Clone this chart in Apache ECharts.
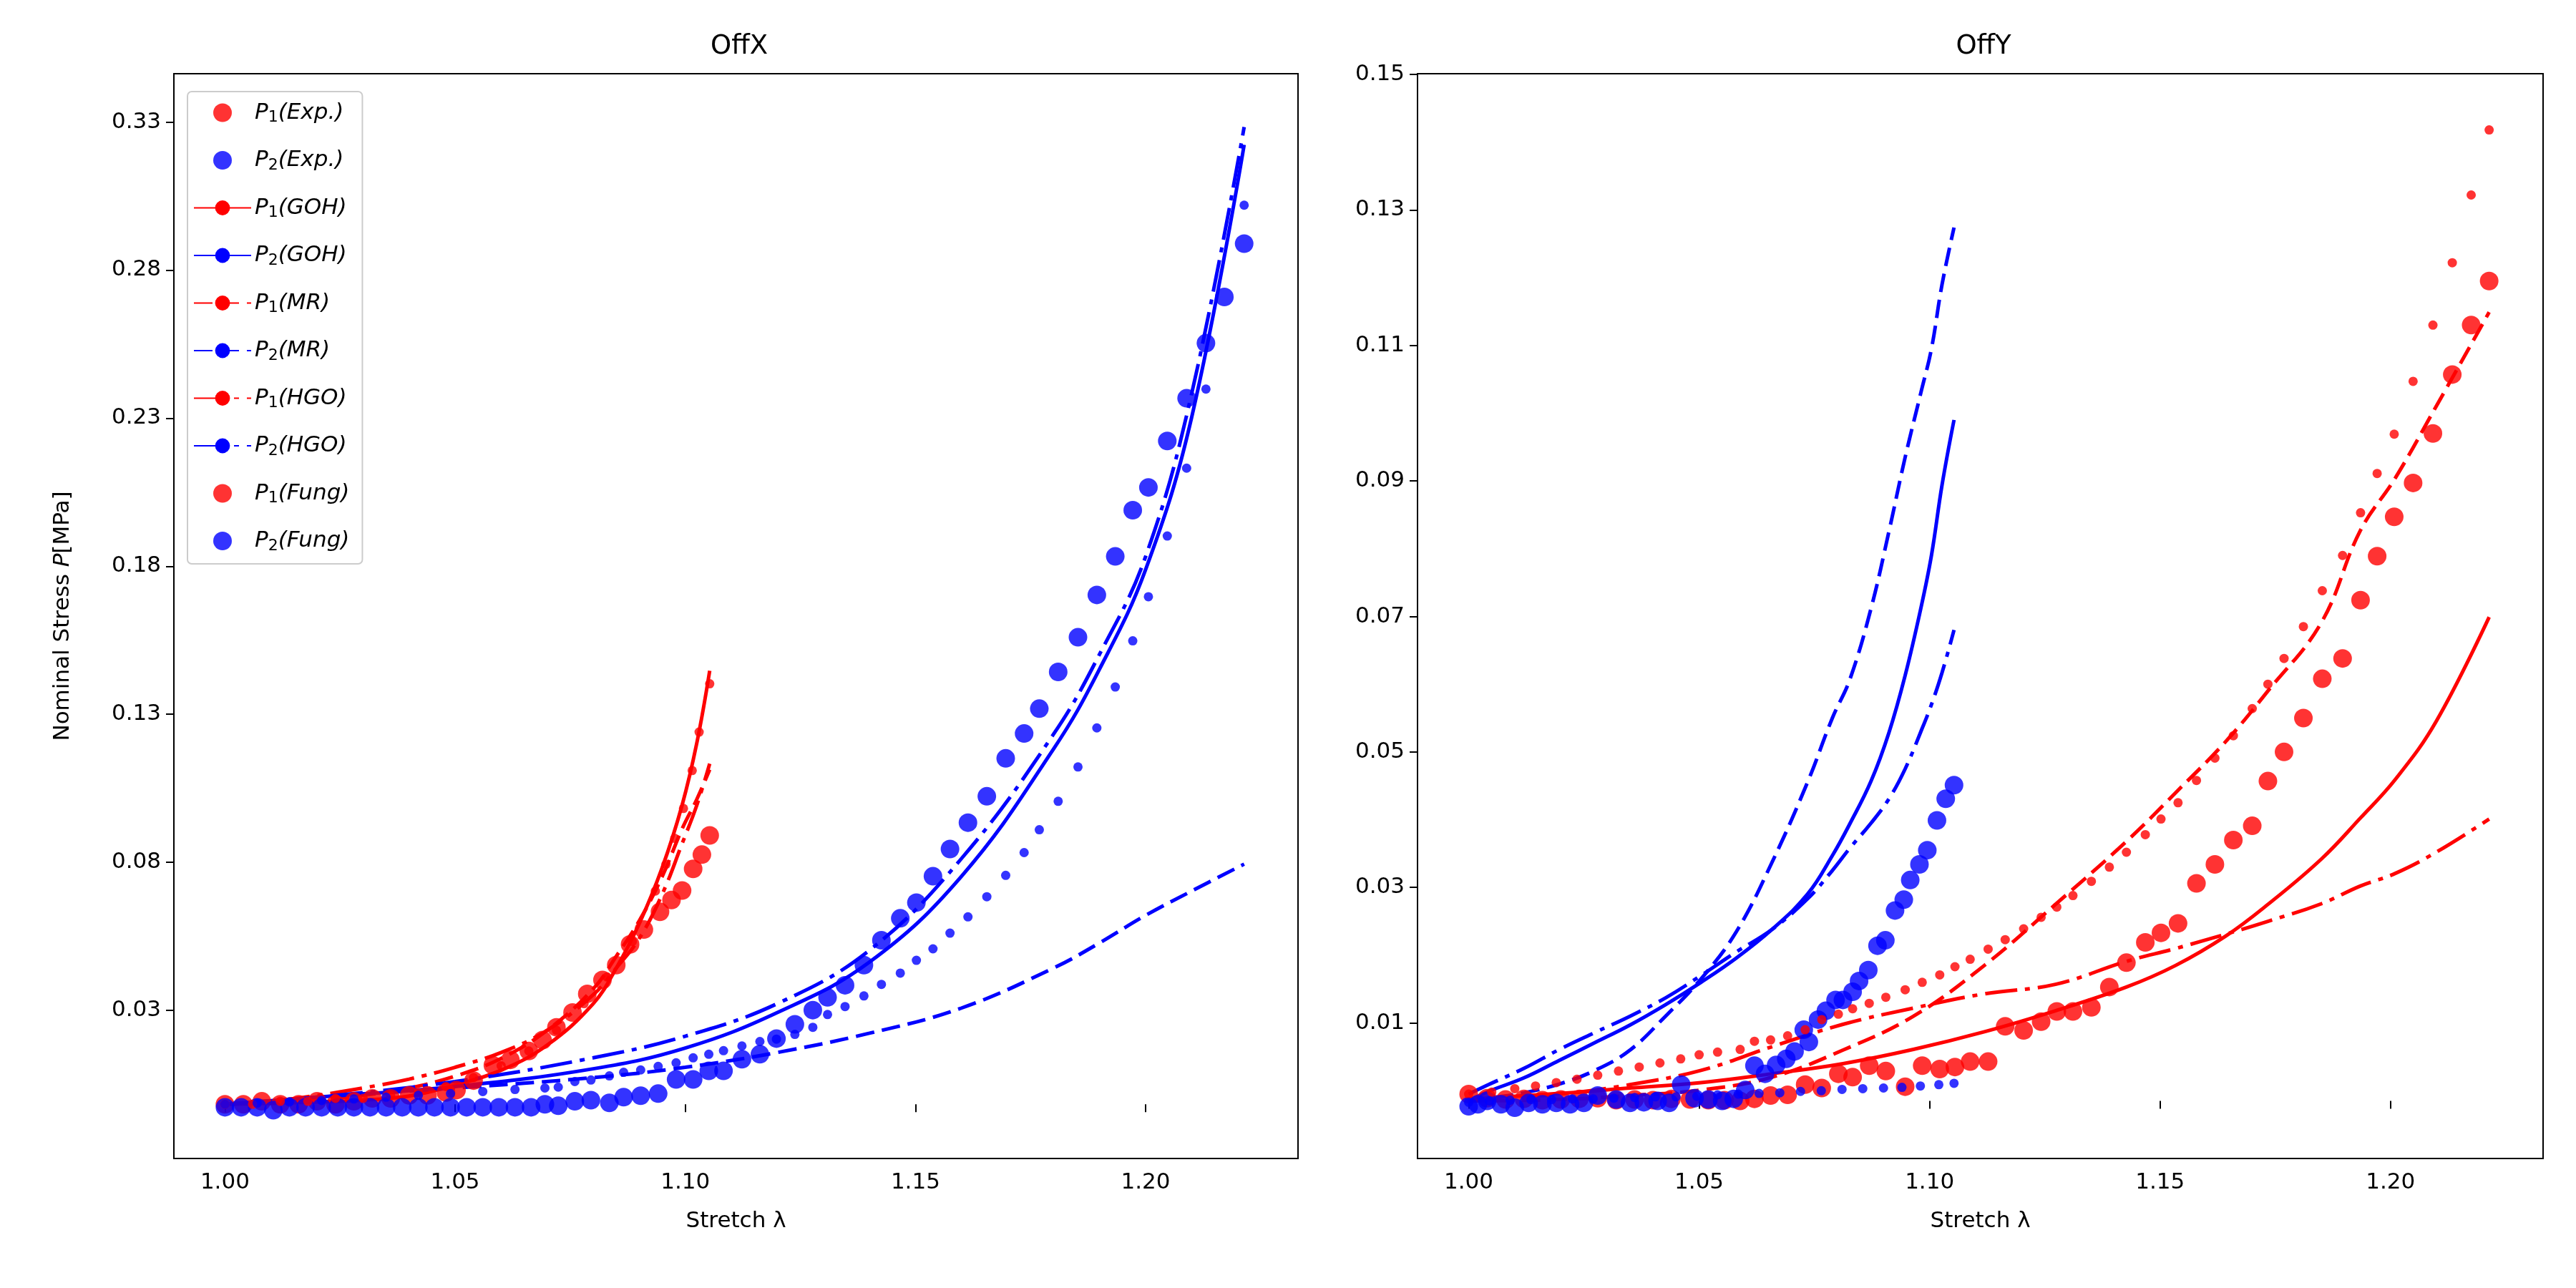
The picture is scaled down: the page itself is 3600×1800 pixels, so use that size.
<!DOCTYPE html>
<html>
<head>
<meta charset="utf-8">
<script src="https://cdn.jsdelivr.net/npm/echarts@6/dist/echarts.min.js"></script>
<style>html,body{margin:0;background:#fff}#c{width:3600px;height:1800px}</style>
</head>
<body>
<div id="c"></div>
<script>
// ---------- OffX (left) ----------
const xP1ExpL = [1.000,1.004,1.008,1.012,1.016,1.020,1.024,1.028,1.032,1.036,1.040,1.044,1.048,1.0503,1.054,1.0582,1.062,1.066,1.069,1.072,1.0755,1.0787,1.082,1.085,1.088,1.091,1.0945,1.097,1.0993,1.1017,1.1036,1.1053];
const yP1ExpL = [0.000,0.000,0.001,0.000,0.000,0.001,0.000,0.001,0.002,0.002,0.003,0.003,0.004,0.0048,0.008,0.0132,0.015,0.018,0.0217,0.026,0.031,0.0373,0.042,0.047,0.054,0.059,0.065,0.069,0.0722,0.0795,0.0843,0.0908];
const xP1FungL = [1.000,1.006,1.012,1.018,1.024,1.030,1.036,1.042,1.048,1.054,1.060,1.066,1.072,1.078,1.083,1.0885,1.0935,1.0958,1.0977,1.0996,1.1015,1.103,1.1053];
const yP1FungL = [0.000,0.000,0.001,0.001,0.002,0.002,0.003,0.004,0.006,0.009,0.013,0.018,0.025,0.034,0.043,0.055,0.072,0.081,0.0898,0.0999,0.1127,0.1257,0.142];
const xLineP1L = [1.000,1.010,1.020,1.030,1.040,1.050,1.060,1.070,1.080,1.085,1.090,1.095,1.0993,1.1025,1.1053];
const yP1GOHL = [0.000,0.0003,0.0008,0.0014,0.0028,0.0065,0.0115,0.020,0.034,0.046,0.061,0.080,0.101,0.122,0.1464];
const yP1MRL  = [0.000,0.0006,0.0015,0.0030,0.0055,0.0095,0.0155,0.025,0.039,0.050,0.062,0.077,0.093,0.103,0.113];
const yP1HGOL = [0.000,0.0010,0.0030,0.0055,0.0085,0.0125,0.0175,0.025,0.037,0.046,0.056,0.071,0.088,0.101,0.115];

const xP2ExpL = [1.000,1.0035,1.007,1.0105,1.014,1.0175,1.021,1.0245,1.028,1.0315,1.035,1.0385,1.042,1.0455,1.049,1.0525,1.056,1.0595,1.063,1.0665,1.0695,1.0724,1.076,1.0795,1.0835,1.0866,1.0903,1.0941,1.098,1.1017,1.1051,1.1083,1.1123,1.1162,1.1198,1.1238,1.1277,1.1309,1.1347,1.1388,1.1426,1.1467,1.1502,1.1538,1.1575,1.1614,1.1655,1.1696,1.1736,1.1769,1.181,1.1853,1.1894,1.1934,1.1972,1.2006,1.2047,1.2089,1.2131,1.2171,1.2214];
const yP2ExpL = [-0.001,-0.001,-0.001,-0.002,-0.001,-0.001,-0.001,-0.001,-0.001,-0.001,-0.001,-0.001,-0.001,-0.001,-0.001,-0.001,-0.001,-0.001,-0.001,-0.001,0.000,-0.0005,0.001,0.0014,0.0005,0.0024,0.0029,0.0036,0.0084,0.0084,0.0113,0.0113,0.0152,0.0169,0.0222,0.027,0.0318,0.0361,0.0402,0.047,0.0554,0.0628,0.0681,0.077,0.0862,0.0951,0.104,0.1168,0.1252,0.1336,0.146,0.1577,0.172,0.185,0.2006,0.2083,0.224,0.2384,0.257,0.2726,0.2906];
const xP2FungL = [1.000,1.007,1.014,1.021,1.028,1.035,1.042,1.049,1.056,1.063,1.0695,1.0724,1.076,1.0795,1.0835,1.0866,1.0903,1.0941,1.098,1.1017,1.1051,1.1083,1.1123,1.1162,1.1198,1.1238,1.1277,1.1309,1.1347,1.1388,1.1426,1.1467,1.1502,1.1538,1.1575,1.1614,1.1655,1.1696,1.1736,1.1769,1.181,1.1853,1.1894,1.1934,1.1972,1.2006,1.2047,1.2089,1.2131,1.2214];
const yP2FungL = [0.000,0.0004,0.0008,0.0013,0.0018,0.0024,0.003,0.0036,0.0043,0.005,0.0055,0.0058,0.0077,0.0082,0.0096,0.0108,0.0116,0.0128,0.014,0.0157,0.0169,0.0181,0.0197,0.0212,0.022,0.0236,0.026,0.0303,0.033,0.0366,0.0405,0.0443,0.0486,0.0525,0.0578,0.0633,0.0701,0.0773,0.085,0.0927,0.1023,0.1139,0.1271,0.1409,0.1565,0.1714,0.1919,0.2148,0.2415,0.3036];
const xLineP2L = [1.000,1.020,1.050,1.080,1.100,1.120,1.140,1.160,1.180,1.190,1.200,1.210,1.2214];
const yP2GOHL = [0.000,0.0024,0.006,0.012,0.019,0.031,0.048,0.077,0.120,0.147,0.1806,0.232,0.324];
const yP2MRL  = [0.000,0.0024,0.0055,0.009,0.0125,0.0175,0.024,0.0325,0.046,0.0545,0.0638,0.072,0.0811];
const yP2HGOL = [0.000,0.0024,0.0077,0.0157,0.023,0.034,0.052,0.083,0.125,0.152,0.185,0.240,0.330];

// ---------- OffY (right) ----------
const xP1ExpR = [1.000,1.004,1.008,1.012,1.016,1.020,1.024,1.028,1.032,1.036,1.040,1.044,1.048,1.052,1.0555,1.0589,1.062,1.0655,1.0692,1.073,1.0766,1.0802,1.0833,1.0869,1.0905,1.0947,1.0984,1.1022,1.1055,1.1088,1.1127,1.1164,1.1204,1.1242,1.1276,1.1311,1.1351,1.139,1.1427,1.1468,1.1502,1.1539,1.1579,1.1619,1.1659,1.17,1.1734,1.1769,1.1811,1.1852,1.1896,1.1935,1.1971,1.2008,1.2049,1.2092,1.2134,1.2175,1.2214];
const yP1ExpR = [0.001,0.0004,0.0002,0.0003,0.0001,0.0002,0.0003,0.0004,0.0001,0.0002,0.0001,0.0003,0.0002,0.0001,0.0001,0.000,0.0003,0.0008,0.0009,0.0024,0.0019,0.004,0.0035,0.0052,0.0044,0.0021,0.0052,0.0047,0.005,0.0058,0.0058,0.011,0.0104,0.0117,0.0132,0.0132,0.0138,0.0168,0.0204,0.0234,0.0248,0.0262,0.0321,0.0349,0.0385,0.0406,0.0472,0.0515,0.0565,0.0623,0.0653,0.0739,0.0804,0.0862,0.0912,0.0985,0.1072,0.1145,0.121];
const xP1FungR = [1.000,1.005,1.010,1.0145,1.019,1.0235,1.028,1.0325,1.037,1.0415,1.046,1.050,1.054,1.0589,1.062,1.0655,1.0692,1.073,1.0766,1.0802,1.0833,1.0869,1.0905,1.0947,1.0984,1.1022,1.1055,1.1088,1.1127,1.1164,1.1204,1.1242,1.1276,1.1311,1.1351,1.139,1.1427,1.1468,1.1502,1.1539,1.1579,1.1619,1.1659,1.17,1.1734,1.1769,1.1811,1.1852,1.1896,1.1935,1.1971,1.2008,1.2049,1.2092,1.2134,1.2175,1.2214];
const yP1FungR = [0.001,0.0013,0.0018,0.0022,0.0027,0.0032,0.0038,0.0044,0.005,0.0056,0.0062,0.0068,0.0072,0.0076,0.0088,0.009,0.0096,0.0105,0.012,0.0128,0.0136,0.0144,0.0153,0.0164,0.0175,0.0186,0.0198,0.0209,0.0224,0.0238,0.0254,0.0271,0.0286,0.0303,0.0324,0.0345,0.0367,0.0393,0.0416,0.044,0.0473,0.0506,0.0539,0.0579,0.0615,0.0653,0.07,0.0753,0.0805,0.0868,0.0926,0.0984,0.1062,0.1145,0.1237,0.1337,0.1433];
const xLineP1R = [1.000,1.0197,1.035,1.0504,1.0658,1.0812,1.0965,1.1119,1.1273,1.1427,1.1534,1.1642,1.1734,1.185,1.1934,1.2011,1.2099,1.2214];
const yP1GOHR = [0.0003,0.0011,0.0019,0.0027,0.004,0.0055,0.0076,0.0102,0.0133,0.0168,0.020,0.0243,0.029,0.0357,0.0417,0.0475,0.056,0.0714];
const yP1MRR  = [0.000,0.0002,0.0008,0.0016,0.0035,0.0075,0.0125,0.020,0.029,0.0383,0.0455,0.053,0.0605,0.0706,0.0841,0.092,0.1025,0.1164];
const yP1HGOR = [0.000,0.001,0.0024,0.0045,0.008,0.0113,0.0137,0.0158,0.0172,0.0206,0.0225,0.0246,0.0265,0.0291,0.0317,0.0336,0.0367,0.0416];

const xP2ExpR = [1.000,1.002,1.004,1.007,1.010,1.013,1.016,1.019,1.022,1.025,1.028,1.032,1.035,1.038,1.041,1.0435,1.0461,1.049,1.052,1.055,1.0575,1.060,1.062,1.0643,1.0667,1.0689,1.0707,1.0727,1.0738,1.0758,1.0775,1.0796,1.0812,1.0833,1.0847,1.0867,1.0887,1.0904,1.0925,1.0944,1.0958,1.0978,1.0995,1.1016,1.1035,1.1053];
const yP2ExpR = [-0.0008,-0.0005,0.000,-0.0005,-0.001,-0.0003,-0.0005,-0.0003,-0.0005,-0.0003,0.0008,0.0002,-0.0003,-0.0002,0.000,-0.0003,0.0024,0.0004,0.0002,0.000,0.0003,0.0016,0.0052,0.004,0.0053,0.0062,0.0073,0.0105,0.0087,0.012,0.0133,0.0149,0.0149,0.0161,0.0177,0.0193,0.0229,0.0237,0.0281,0.0297,0.0326,0.0349,0.037,0.0414,0.0446,0.0466];
const xP2FungR = [1.000,1.0045,1.009,1.0135,1.018,1.0225,1.027,1.0315,1.036,1.0405,1.045,1.0495,1.054,1.0585,1.063,1.0675,1.072,1.0765,1.081,1.0855,1.090,1.094,1.098,1.102,1.1053];
const yP2FungR = [-0.0002,0.000,0.0001,0.0002,0.0002,0.0003,0.0003,0.0004,0.0005,0.0006,0.0006,0.0007,0.0009,0.001,0.0011,0.0012,0.0014,0.0015,0.0017,0.0018,0.0019,0.002,0.0022,0.0024,0.0026];
const xLineP2R = [1.000,1.0043,1.012,1.0197,1.0274,1.035,1.0427,1.0504,1.0581,1.0658,1.0735,1.0789,1.0827,1.0873,1.0912,1.0947,1.0981,1.1004,1.1027,1.1053];
const yP2GOHR = [0.000,0.0014,0.0034,0.006,0.0086,0.0112,0.0142,0.0175,0.0211,0.0253,0.0305,0.0362,0.0409,0.0472,0.0544,0.0628,0.0727,0.0805,0.0909,0.1005];
const yP2MRR  = [0.000,0.0004,0.0012,0.0025,0.0045,0.0075,0.0125,0.018,0.025,0.0352,0.047,0.0565,0.0622,0.0727,0.0841,0.095,0.1045,0.111,0.1205,0.1289];
const yP2HGOR = [0.001,0.0024,0.0048,0.0076,0.0101,0.0125,0.0152,0.0185,0.0220,0.0253,0.0298,0.034,0.0373,0.041,0.0446,0.049,0.0545,0.0585,0.0632,0.0695];

const xTicks = [1.00, 1.05, 1.10, 1.15, 1.20];

const zip = (xs, ys) => xs.map((x, i) => [x, ys[i]]);
const FONT = 'DejaVu Sans';
const DASH = [26, 11];
const DASHDOT = [45, 11, 7, 11];

const legendNames = ['P1(Exp.)','P2(Exp.)','P1(GOH)','P2(GOH)','P1(MR)','P2(MR)','P1(HGO)','P2(HGO)','P1(Fung)','P2(Fung)'];

function axisX(gi) {
  return {
    type: 'value', gridIndex: gi, min: 0.9889, max: 1.2331,
    name: 'Stretch λ', nameLocation: 'middle', nameGap: 72,
    nameTextStyle: { fontFamily: FONT, fontSize: 31, color: '#000' },
    axisLine: { show: false }, splitLine: { show: false },
    axisTick: { show: true, length: 11, lineStyle: { color: '#000', width: 2 },
      customValues: xTicks },
    axisLabel: { fontFamily: FONT, fontSize: 31, color: '#000', margin: 18,
      customValues: xTicks, formatter: v => v.toFixed(2) }
  };
}
function axisY(gi, min, max, interval, name) {
  return {
    type: 'value', gridIndex: gi, min, max, interval,
    name, nameLocation: 'middle', nameGap: 140,
    nameTextStyle: { fontFamily: FONT, fontSize: 31, color: '#000',
      rich: { i: { fontFamily: FONT, fontSize: 31, fontStyle: 'italic' } } },
    axisLine: { show: false }, splitLine: { show: false },
    axisTick: { show: true, length: 11, lineStyle: { color: '#000', width: 2 } },
    axisLabel: { fontFamily: FONT, fontSize: 31, color: '#000', margin: 18,
      showMinLabel: false, showMaxLabel: false, formatter: v => v.toFixed(2) }
  };
}

function scatter(name, gi, xs, ys, color, size) {
  return { name, type: 'scatter', xAxisIndex: gi, yAxisIndex: gi, data: zip(xs, ys),
    symbolSize: size, itemStyle: { color }, z: 3 };
}
function line(name, gi, xs, ys, color, dash) {
  return { name, type: 'line', xAxisIndex: gi, yAxisIndex: gi, data: zip(xs, ys),
    smooth: 0.4, symbol: 'none', lineStyle: { color, width: 5, type: dash },
    itemStyle: { color }, z: 2 };
}

const series = [];
[[0, xP1ExpL, yP1ExpL, xP2ExpL, yP2ExpL, xP1FungL, yP1FungL, xP2FungL, yP2FungL,
  xLineP1L, yP1GOHL, yP1MRL, yP1HGOL, xLineP2L, yP2GOHL, yP2MRL, yP2HGOL],
 [1, xP1ExpR, yP1ExpR, xP2ExpR, yP2ExpR, xP1FungR, yP1FungR, xP2FungR, yP2FungR,
  xLineP1R, yP1GOHR, yP1MRR, yP1HGOR, xLineP2R, yP2GOHR, yP2MRR, yP2HGOR]
].forEach(d => {
  const g = d[0];
  series.push(
    line('P1(GOH)', g, d[9], d[10], '#ff0000', 'solid'),
    line('P2(GOH)', g, d[13], d[14], '#0000ff', 'solid'),
    line('P1(MR)', g, d[9], d[11], '#ff0000', DASH),
    line('P2(MR)', g, d[13], d[15], '#0000ff', DASH),
    line('P1(HGO)', g, d[9], d[12], '#ff0000', DASHDOT),
    line('P2(HGO)', g, d[13], d[16], '#0000ff', DASHDOT),
    scatter('P1(Exp.)', g, d[1], d[2], '#ff0000', 26),
    scatter('P2(Exp.)', g, d[3], d[4], '#0000ff', 26),
    scatter('P1(Fung)', g, d[5], d[6], '#ff0000', 13),
    scatter('P2(Fung)', g, d[7], d[8], '#0000ff', 13)
  );
});

const chart = echarts.init(document.getElementById('c'));
chart.setOption({
  backgroundColor: '#fff',
  animation: false,
  title: [
    { text: 'OffX', left: 1028, top: 42, textAlign: 'center', textStyle: { fontFamily: FONT, fontSize: 37, fontWeight: 'normal', color: '#000' } },
    { text: 'OffY', left: 2767, top: 42, textAlign: 'center', textStyle: { fontFamily: FONT, fontSize: 37, fontWeight: 'normal', color: '#000' } }
  ],
  grid: [
    { left: 243, top: 103, width: 1571, height: 1516, show: true, borderColor: '#000', borderWidth: 2, backgroundColor: 'transparent' },
    { left: 1981, top: 103, width: 1573, height: 1516, show: true, borderColor: '#000', borderWidth: 2, backgroundColor: 'transparent' }
  ],
  xAxis: [axisX(0), axisX(1)],
  yAxis: [
    axisY(0, -0.0183, 0.348, 0.05, '{a|Nominal Stress }{i|P}{a|[MPa]}'),
    axisY(1, -0.0085, 0.1516, 0.02, '')
  ],
  legend: {
    data: legendNames, orient: 'vertical', left: 262, top: 128,
    itemWidth: 80, itemHeight: 26, itemGap: 33,
    padding: [14, 18, 14, 8],
    backgroundColor: 'rgba(255,255,255,0.8)', borderColor: '#ccc', borderWidth: 2, borderRadius: 6,
    formatter: n => {
      const m = n.match(/P(\d)\((.*)\)/);
      return '{i|P}{s|' + m[1] + '}{i|(' + m[2] + ')}';
    },
    textStyle: { fontFamily: FONT, fontSize: 31, color: '#000',
      rich: {
        i: { fontFamily: FONT, fontSize: 31, fontStyle: 'italic', color: '#000' },
        s: { fontFamily: FONT, fontSize: 22, color: '#000', verticalAlign: 'bottom', padding: [14, 0, 0, 0] }
      } }
  },
  series
});
</script>
</body>
</html>
